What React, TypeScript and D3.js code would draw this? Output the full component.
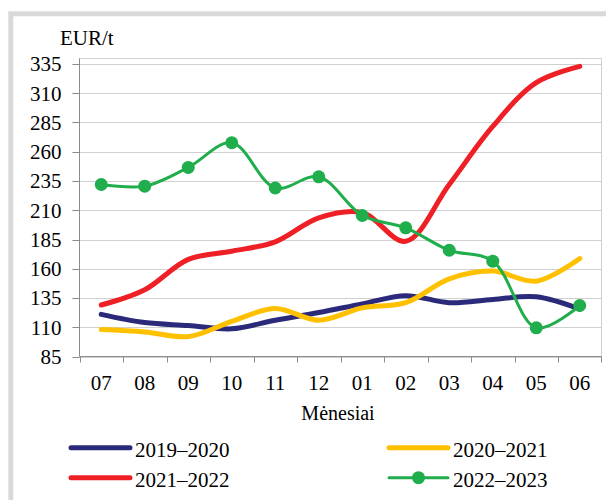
import React from "react";
import * as d3 from "d3";

const months = ["07", "08", "09", "10", "11", "12", "01", "02", "03", "04", "05", "06"];
const yTicks = [85, 110, 135, 160, 185, 210, 235, 260, 285, 310, 335];

const s2019 = [121, 114, 111.5, 108.7, 116, 122.6, 130, 137, 131, 133.7, 136, 125.5];
const s2020 = [108, 106, 102, 115, 126, 116, 126.6, 131, 151.4, 158, 149.4, 168.7];
const s2021 = [129, 142, 168, 175, 183, 203.5, 208, 183.5, 232, 281.6, 319, 333];
const s2022 = [232, 230.6, 246.6, 267.7, 229, 238.6, 205.5, 195, 175.8, 166.5, 109.5, 128.6];

const seriesNames = ["2019–2020", "2020–2021", "2021–2022", "2022–2023"];
const seriesColors = ["#2b2a7a", "#ffc000", "#ee1f25", "#1fae4b"];

export default function App() {
  const W = 606, H = 500;
  const left = 79.5, right = 601.5, top = 58.5, bottom = 356.5;
  const x = d3.scaleBand<string>().domain(months).range([left, right]);
  const y = d3.scaleLinear().domain([85, 335]).range([356.5, 64]);
  const cx = (m: string) => (x(m) as number) + x.bandwidth() / 2;
  const line = d3
    .line<number>()
    .x((_, i) => cx(months[i]))
    .y((d) => y(d))
    .curve(d3.curveCatmullRom.alpha(0.5));
  const tstyle = { fontFamily: "'Liberation Serif', serif", fontSize: "21px" };
  const data = [s2019, s2020, s2021, s2022];

  return (
    <svg width={W} height={H} style={{ position: "absolute", left: 0, top: 0, background: "#fff", fontFamily: "'Liberation Serif', serif" }}>
      <rect x={10.8} y={13.8} width={700} height={600} fill="#fff" stroke="#d9d9d9" strokeWidth={5} />
      <text x={60} y={45} style={tstyle}>EUR/t</text>
      <rect x={left} y={top} width={right - left} height={bottom - top} fill="none" stroke="#d0d0d0" strokeWidth={1} />
      {yTicks.map((t) => (
        <g key={t}>
          <line x1={left - 7} x2={right} y1={Math.round(y(t)) + 0.5} y2={Math.round(y(t)) + 0.5} stroke="#d0d0d0" strokeWidth={1} />
          <line x1={left - 7} x2={left} y1={Math.round(y(t)) + 0.5} y2={Math.round(y(t)) + 0.5} stroke="#8c8c8c" strokeWidth={1} />
          <text x={61.5} y={y(t)} dy="0.35em" textAnchor="end" style={tstyle}>{t}</text>
        </g>
      ))}
      <line x1={left} x2={left} y1={top} y2={bottom} stroke="#8c8c8c" strokeWidth={1} />
      <line x1={left} x2={right} y1={bottom} y2={bottom} stroke="#8c8c8c" strokeWidth={1} />
      {months.map((m, i) => (
        <g key={m}>
          <line x1={Math.round(x(m) as number) + 0.5} x2={Math.round(x(m) as number) + 0.5} y1={bottom} y2={bottom + 6} stroke="#8c8c8c" />
          {i === months.length - 1 && (
            <line x1={right} x2={right} y1={bottom} y2={bottom + 6} stroke="#8c8c8c" />
          )}
          <text x={cx(m)} y={390} textAnchor="middle" style={tstyle}>{m}</text>
        </g>
      ))}
      <text x={338} y={420} textAnchor="middle" style={{ ...tstyle, fontSize: "20px" }}>Mėnesiai</text>
      {data.map((d, i) => (
        <path key={i} d={line(d) || ""} fill="none" stroke={seriesColors[i]} strokeWidth={i === 3 ? 3 : 5} strokeLinecap="round" strokeLinejoin="round" />
      ))}
      {s2022.map((v, i) => (
        <circle key={i} cx={cx(months[i])} cy={y(v)} r={6.5} fill={seriesColors[3]} />
      ))}
      {seriesNames.map((n, i) => {
        const lx = i % 2 === 0 ? 71 : 389;
        const ly = i < 2 ? 447.7 : 477.7;
        return (
          <g key={n}>
            <line x1={lx} x2={lx + 59} y1={ly} y2={ly} stroke={seriesColors[i]} strokeWidth={i === 3 ? 3 : 5} strokeLinecap="round" />
            {i === 3 && <circle cx={lx + 29.5} cy={ly} r={6.5} fill={seriesColors[3]} />}
            <text x={lx + 64} y={ly + 9} style={tstyle}>{n}</text>
          </g>
        );
      })}
    </svg>
  );
}
